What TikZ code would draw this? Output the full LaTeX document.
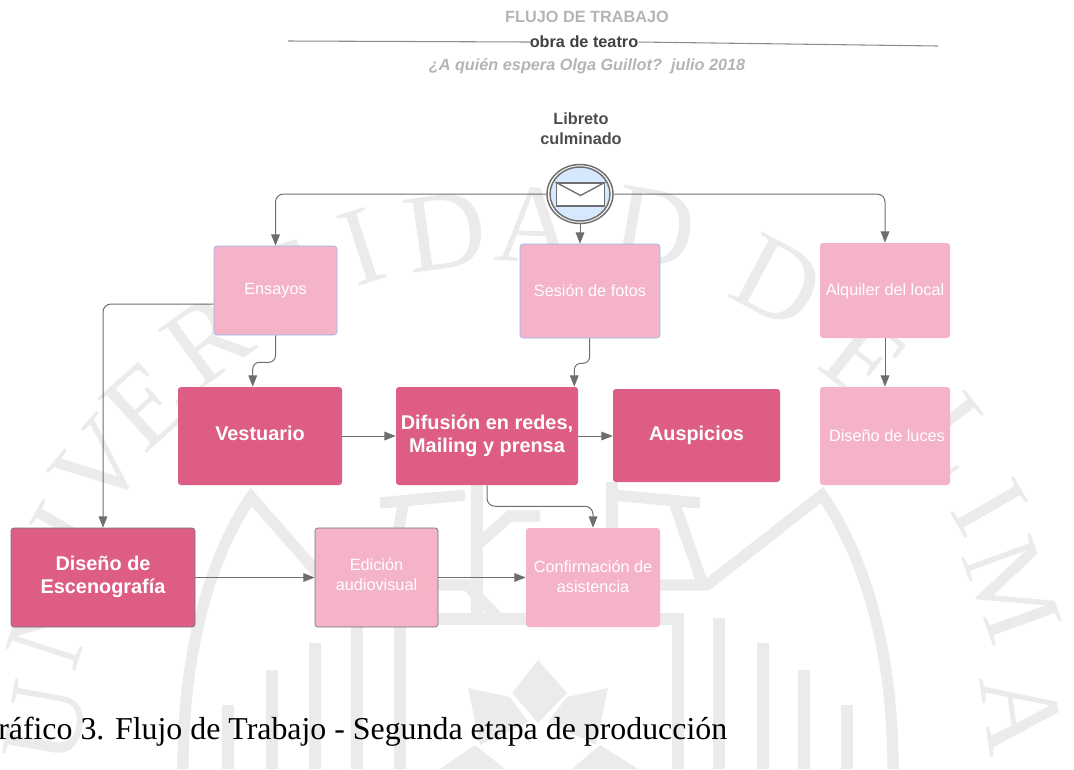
\documentclass[tikz,border=0pt]{standalone}
\usepackage{fontspec}
\setmainfont{Liberation Sans}
\newfontfamily\serifwm{Liberation Serif}
\usetikzlibrary{arrows.meta,calc,shapes.geometric}
\definecolor{wm}{HTML}{EBEBEB}
\definecolor{deep}{HTML}{DD5D84}
\definecolor{soft}{HTML}{F4B3C6}
\definecolor{conn}{HTML}{6E6E6E}
\definecolor{bluee}{HTML}{8FB8F5}
\definecolor{titlegray}{HTML}{B4B4B4}
\definecolor{evfill}{HTML}{D5E8FD}
\tikzset{
  box/.style 2 args={rectangle,rounded corners=2.2pt,minimum width=#1*.75pt,minimum height=#2*.75pt,inner sep=0pt,align=center,text=white},
  strong/.style={fill=deep,font=\bfseries\fontsize{14.9}{17.2}\selectfont,text depth=3.5pt},
  pale/.style={fill=soft,font=\fontsize{12.2}{15}\selectfont,text depth=3pt},
  arr/.style={draw=conn,line width=.75pt,rounded corners=6pt,-{Triangle[length=8.5pt,width=6.5pt,fill=conn]}},
  wmletter/.style={font=\serifwm\fontsize{84}{84}\selectfont,text=wm,inner sep=0pt},
  wmbar/.style={draw=wm,line width=8.5pt},
  heading/.style={font=\fontsize{#1}{#1}\selectfont\bfseries,inner sep=0pt}
}
\begin{document}
\begin{tikzpicture}[x=.75pt,y=-.75pt]
\useasboundingbox (0,0) rectangle (1074,769);
% watermark
\foreach \l/\px/\py/\r/\n in {U/46/722/80/a,N/52/625/72/b,I/68/530/60/c,V/100/465/50/d,E/145/405/42/e,R/207/340/36/f,S/293/280/25/g,I/362/247/18/h,D/445/232/8/i,A/535/225/-2/j,D/655/228/-10/k,D/778/282/-28/l,E/865/360/-38/m,L/955/437/-52/o,I/990/507/-60/p,M/1012/590/-70/q,A/1022/713/-82/r}{
  \node[wmletter,rotate=\r] (wm\n) at (\px,\py) {\l};
}
\draw[wmbar] (183,769) .. controls (183,640) and (215,550) .. (251,497) -- (315,570) -- (345,585) -- (467,585) -- (500,620);
\draw[wmbar] (893,769) .. controls (893,640) and (860,550) .. (822,495) -- (707,585) -- (640,585);
\draw[wmbar] (400,769) -- (400,619) -- (678,619) -- (678,769);
\foreach \bx/\by in {228/705,272/670,315/643,357/620,719/618,763/643,804/670,847/705}{\draw[wmbar] (\bx,\by) -- (\bx,769);}
\draw[wmbar] (380,503) -- (465,495);
\draw[wmbar] (612,495) -- (700,503);
\draw[wmbar] (403,505) -- (388,585);
\draw[wmbar] (675,505) -- (703,585);
\draw[wmbar] (477,482) -- (477,620);
\draw[wmbar] (612,482) -- (612,530);
\draw[wmbar] (477,545) -- (510,516) -- (540,516);
\fill[wm] (538,660) -- (567,693) -- (538,723) -- (512,693) -- cycle;
\fill[wm] (468,688) -- (510,697) -- (528,722) -- (480,745) -- cycle;
\fill[wm] (608,688) -- (567,697) -- (548,722) -- (596,745) -- cycle;
\fill[wm] (440,769) -- (475,745) -- (505,769) -- cycle;
\fill[wm] (572,769) -- (600,745) -- (638,769) -- cycle;
% titles
\node[heading=12.2,text=titlegray] (t1) at (587,17) {FLUJO DE TRABAJO};
\node[heading=12.2,text=black!75] (t2) at (584,42) {obra de teatro};
\node[text=titlegray,inner sep=0pt,font=\fontsize{12.2}{12.2}\selectfont\bfseries\itshape] (t3) at (587,66) {¿A quién espera Olga Guillot?~~julio 2018};
\coordinate (la) at (288,41);
\coordinate (lb) at (938,46);
\draw[black!45,line width=.8pt] (la) -- (t2.west);
\draw[black!45,line width=.8pt] (t2.east) -- (lb);
\node[text=black!70,inner sep=0pt,align=center,font=\fontsize{12.2}{15}\selectfont\bfseries] (lib) at (581,129) {Libreto\\culminado};
% event
\node[draw=conn,line width=1.1pt,fill=white,ellipse,minimum width=66*.75pt,minimum height=59*.75pt,inner sep=0pt] (ev) at (580,194) {};
\node[draw=conn,line width=1.1pt,fill=evfill,ellipse,minimum width=60*.75pt,minimum height=54*.75pt,inner sep=0pt] (evi) at (580,194) {};
\node[draw=conn,line width=1.4pt,fill=white,minimum width=48*.75pt,minimum height=23*.75pt,inner sep=0pt] (env) at (580.5,194.5) {};
\draw[conn,line width=1pt] (env.north west) -- ($(env.center)+(0,1)$) -- (env.north east);
% boxes
\node[box={123}{89},pale,draw=bluee] (ens) at (275.5,290.5) {Ensayos};
\node[box={140}{94},pale,draw=bluee,text depth=1pt] (ses) at (590,291) {Sesión de fotos};
\node[box={130}{95},pale,text depth=1pt] (alq) at (885,290.5) {Alquiler del local};
\node[box={164}{98},strong,text depth=4.5pt] (ves) at (260,436) {Vestuario};
\node[box={182}{98},strong] (dif) at (487,436) {Difusión en redes,\\Mailing y prensa};
\node[box={167}{93},strong] (aus) at (696.5,435.5) {Auspicios};
\node[box={130}{98},pale,text depth=1pt] (luc) at (885,436) {\hspace*{3pt}Diseño de luces};
\node[box={184}{99},strong,draw=black!55,line width=.5pt] (esc) at (103,577.5) {Diseño de\\Escenografía};
\node[box={123}{99},pale,draw=black!55,line width=.5pt,text depth=4pt] (edi) at (376.5,577.5) {Edición\\audiovisual};
\node[box={134}{99},pale,text depth=1pt] (con) at (593,577.5) {Confirmación de\\asistencia};
% connectors
\coordinate (ry) at (0,194);
\draw[arr] (ev.west |- ry) -| (ens.north);
\draw[arr] (ev.south) -- (ev.south |- ses.north);
\draw[arr] (ev.east |- ry) -| (alq.north);
\draw[arr] ($(ens.west)+(0,13.5)$) -| (esc.north);
\draw[arr,rounded corners=5pt] (ens.south) -- ++(0,27) -| ($(ves.north west)+(75,0)$);
\draw[arr,rounded corners=5pt] ($(ses.south west)+(70,0)$) -- ++(0,25) -| ($(dif.north east)+(-4,0)$);
\draw[arr] (alq.south) -- (luc.north);
\draw[arr] (ves.east) -- (dif.west);
\draw[arr] (dif.east) -- (dif.east -| aus.west);
\draw[arr] (dif.south) -- ++(0,21) -| (con.north);
\draw[arr] (esc.east) -- (edi.west);
\draw[arr] (edi.east) -- (con.west);
% caption
\node[anchor=base west,inner sep=0pt,font=\serifwm\fontsize{23.9}{24}\selectfont,text=black] (cap) at (-2,739) {ráfico 3. Flujo de Trabajo - Segunda etapa de producción};
\end{tikzpicture}
\end{document}
